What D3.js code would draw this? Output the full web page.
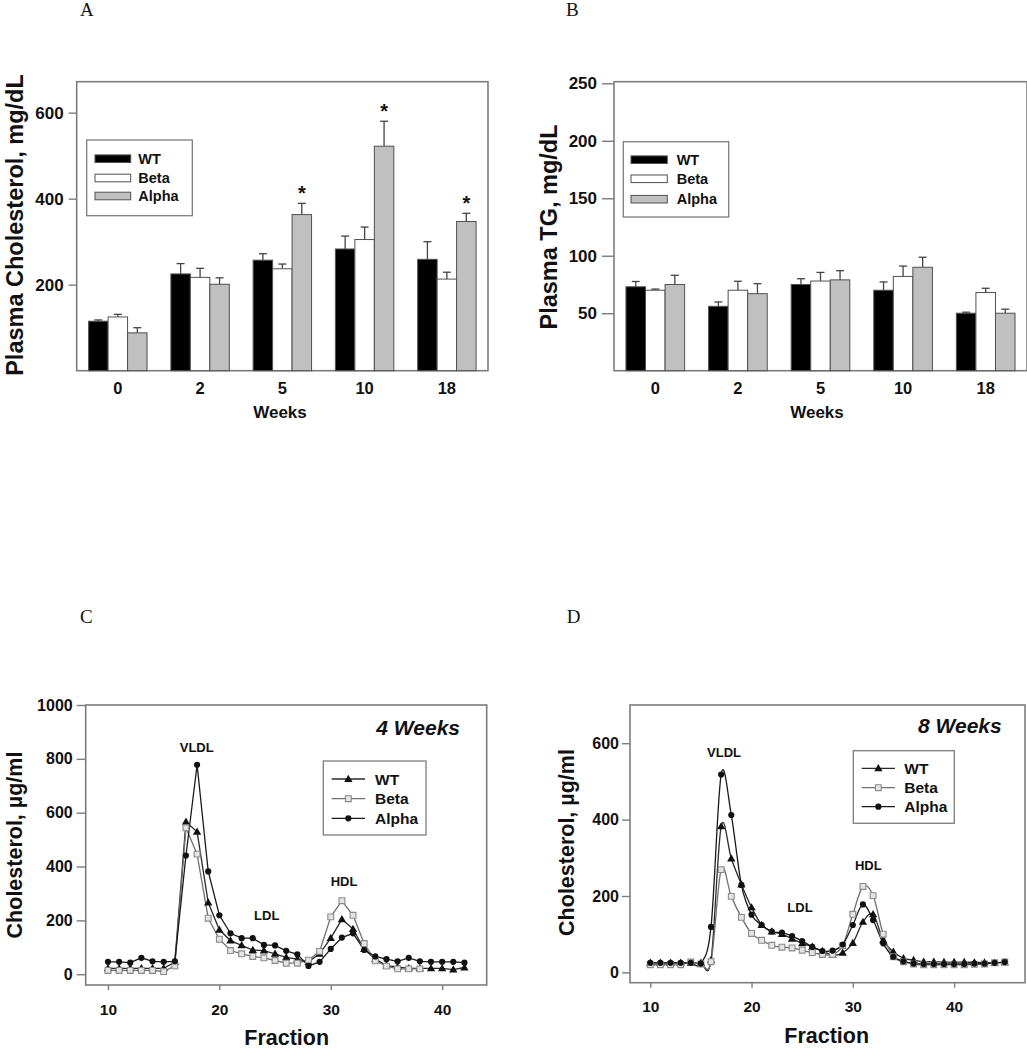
<!DOCTYPE html>
<html><head><meta charset="utf-8">
<script src="https://cdn.jsdelivr.net/npm/d3@7"></script>
<style>
body{margin:0;background:#fff}
text{font-family:"Liberation Sans",Arial,sans-serif;font-weight:bold;fill:#111}
text.panel{font-family:"Liberation Serif","Times New Roman",serif;font-weight:normal;font-size:19px}
</style>
</head><body><svg id="c" width="1027" height="1050"></svg>
<script>
// ---------- data ----------
const weeks = ["0","2","5","10","18"];
const groups = ["WT","Beta","Alpha"];
// Panel A: plasma cholesterol (mg/dL), mean and SE
const cholWT = [115,225,257,283,259];
const cholWTse = [3,24,15,30,41];
const cholBeta = [125,217,237,305,213];
const cholBetaSe = [6,21,11,29,16];
const cholAlpha = [88,201,363,522,347];
const cholAlphaSe = [12,15,26,58,19];
const cholStar = [false,false,true,true,true];
const cholTicks = [200,400,600];
// Panel B: plasma TG (mg/dL)
const tgWT = [73,56,75,70,50];
const tgWTse = [4.6,3.8,5,7.2,0.9];
const tgBeta = [70,70,78,82,68];
const tgBetaSe = [1,7.8,7.5,9,3.7];
const tgAlpha = [75,67,79,90,50];
const tgAlphaSe = [8,8.7,8,8.7,3.5];
const tgTicks = [50,100,150,200,250];
// Panel C: FPLC 4 weeks
const fracC = [10,11,12,13,14,15,16,17,18,19,20,21,22,23,24,25,26,27,28,29,30,31,32,33,34,35,36,37,38,39,40,41,42];
const c4WT = [22,22,22,22,22,22,45,566,529,266,165,125,107,90,88,76,63,56,46,76,134,204,168,93,56,32,27,22,22,22,22,17,25];
const c4Alpha = [46,46,43,61,48,46,48,441,778,382,219,152,134,134,109,107,87,74,31,46,94,136,152,90,66,56,48,61,48,46,46,46,43];
const fracCBeta = [10,11,12,13,14,15,16,17,18,19,20,21,22,23,24,25,26,27,28,29,30,31,32,33,34,35,36,37,38];
const c4Beta = [14,14,14,14,14,10,31,544,446,208,130,88,76,66,61,51,41,41,52,85,213,273,219,114,50,30,20,20,20];
const cTicksY = [0,200,400,600,800,1000];
// Panel D: FPLC 8 weeks
const fracD = [10,11,12,13,14,15,16,17,18,19,20,21,22,23,24,25,26,27,28,29,30,31,32,33,34,35,36,37,38,39,40,41,42,43,44,45];
const d8WT = [25,25,25,25,25,25,32,382,298,230,170,124,107,100,88,76,67,56,45,51,77,132,152,84,54,37,32,28,28,27,27,27,26,26,25,26];
const d8Beta = [20,20,20,20,27,22,28,269,199,144,102,84,71,66,64,58,52,47,47,70,152,225,201,100,41,28,22,20,20,20,20,20,21,22,25,27];
const d8Alpha = [25,25,25,25,25,23,119,518,412,229,151,124,107,104,95,82,67,56,57,73,124,178,137,76,41,29,23,22,22,22,22,22,23,23,25,27];
const dTicksY = [0,200,400,600];
const fracTicks = [10,20,30,40];

const svg = d3.select("#c");
const FRAME = "#7d7d7d";
const barFill = {WT:"#000000", Beta:"#ffffff", Alpha:"#c0c0c0"};

// ---------- bar panels ----------
function barPanel(o){
  const g = svg.append("g");
  const y = d3.scaleLinear().domain(o.ydom).range([o.y1,o.y0]);
  const x = d3.scaleBand().domain(weeks).range([o.x0,o.x1]).paddingInner(0.29).paddingOuter(0.145);
  const xi = d3.scaleBand().domain(groups).range([0,x.bandwidth()]);
  g.append("rect").attr("x",o.x0).attr("y",o.y0).attr("width",o.x1-o.x0).attr("height",o.y1-o.y0)
    .attr("fill","none").attr("stroke",FRAME).attr("stroke-width",1.6);
  const ya = g.append("g").attr("transform",`translate(${o.x0},0)`)
    .call(d3.axisLeft(y).tickValues(o.ticks).tickSize(o.tickLen).tickPadding(5).tickFormat(d3.format("d")));
  ya.select(".domain").remove();
  ya.selectAll("line").attr("stroke",FRAME).attr("stroke-width",1.4);
  ya.selectAll("text").style("font-size","17px").attr("fill","#111");
  const xa = g.append("g").attr("transform",`translate(0,${o.y1})`)
    .call(d3.axisBottom(x).tickSize(0).tickPadding(12));
  xa.select(".domain").remove();
  xa.selectAll("text").style("font-size","16.5px").attr("fill","#111");
  const series = [["WT",o.wt,o.wtSe],["Beta",o.beta,o.betaSe],["Alpha",o.alpha,o.alphaSe]];
  series.forEach(([name,vals,ses])=>{
    weeks.forEach((w,i)=>{
      const bx = x(w)+xi(name), bw = xi.bandwidth();
      const cx = bx + bw/2;
      g.append("line").attr("x1",cx).attr("x2",cx).attr("y1",y(vals[i])).attr("y2",y(vals[i]+ses[i]))
        .attr("stroke","#444").attr("stroke-width",1.3);
      g.append("line").attr("x1",cx-4).attr("x2",cx+4).attr("y1",y(vals[i]+ses[i])).attr("y2",y(vals[i]+ses[i]))
        .attr("stroke","#444").attr("stroke-width",1.3);
      g.append("rect").attr("x",bx).attr("y",y(vals[i])).attr("width",bw).attr("height",y(0)-y(vals[i]))
        .attr("fill",barFill[name]).attr("stroke","#505050").attr("stroke-width",1);
      if(o.stars && o.stars[i] && name==="Alpha"){
        g.append("text").attr("x",cx).attr("y",y(vals[i]+ses[i])-3).attr("text-anchor","middle")
          .style("font-size","20px").text("*");
      }
    });
  });
  g.append("text").attr("x",o.xtX).attr("y",o.y1+47).attr("text-anchor","middle").style("font-size","17px").text("Weeks");
  g.append("text").attr("transform",`translate(${o.ytX},${o.ytY}) rotate(-90)`).attr("text-anchor","middle")
    .style("font-size","23.5px").text(o.ytitle);
  const L = o.leg;
  g.append("rect").attr("x",L.x).attr("y",L.y).attr("width",L.w).attr("height",L.h)
    .attr("fill","#fff").attr("stroke",FRAME).attr("stroke-width",1.3);
  groups.forEach((name,k)=>{
    const ry = L.rows[k];
    g.append("rect").attr("x",L.sx).attr("y",ry-3.8).attr("width",L.sw).attr("height",7.6)
      .attr("fill",barFill[name]).attr("stroke","#505050").attr("stroke-width",1);
    g.append("text").attr("x",L.tx).attr("y",ry+5.2).style("font-size","14.5px").text(name);
  });
  svg.append("text").attr("class","panel").attr("x",o.pl[0]).attr("y",o.pl[1]).text(o.plText);
}

barPanel({x0:76.7,x1:488,y0:81.7,y1:370.7,ydom:[0,672],ticks:cholTicks,tickLen:8,
  wt:cholWT,wtSe:cholWTse,beta:cholBeta,betaSe:cholBetaSe,alpha:cholAlpha,alphaSe:cholAlphaSe,stars:cholStar,
  xtX:280,ytX:22.5,ytY:225,ytitle:"Plasma Cholesterol, mg/dL",
  leg:{x:86.7,y:140,w:105.6,h:75.7,sx:95,sw:35.7,tx:138.3,rows:[158.7,178,196]},
  pl:[80,16],plText:"A"});

barPanel({x0:614,x1:1027,y0:81.7,y1:370.7,ydom:[0,251.4],ticks:tgTicks,tickLen:12,
  wt:tgWT,wtSe:tgWTse,beta:tgBeta,betaSe:tgBetaSe,alpha:tgAlpha,alphaSe:tgAlphaSe,stars:null,
  xtX:817,ytX:557,ytY:227,ytitle:"Plasma TG, mg/dL",
  leg:{x:623.3,y:141.7,w:105.4,h:75.3,sx:631,sw:36.3,tx:676.7,rows:[159.7,178.8,199.2]},
  pl:[566,16],plText:"B"});

// ---------- line panels ----------
const symWT = d3.symbol().type(d3.symbolTriangle).size(30);
const symCirc = d3.symbol().type(d3.symbolCircle).size(30);
const symSq = d3.symbol().type(d3.symbolSquare).size(34);
function marker(g,kind,x,y){
  if(kind==="WT") g.append("path").attr("d",symWT()).attr("transform",`translate(${x},${y+0.5})`).attr("fill","#111");
  else if(kind==="Alpha") g.append("path").attr("d",symCirc()).attr("transform",`translate(${x},${y})`).attr("fill","#111");
  else g.append("path").attr("d",symSq()).attr("transform",`translate(${x},${y})`).attr("fill","#e4e4e4").attr("stroke","#8a8a8a").attr("stroke-width",1.1);
}
const lineCol = {WT:"#2a2a2a",Beta:"#707070",Alpha:"#1a1a1a"};

function linePanel(o){
  const g = svg.append("g");
  const x = d3.scaleLinear().domain(o.xdom).range([o.x0,o.x1]);
  const y = d3.scaleLinear().domain(o.ydom).range([o.y1,o.y0]);
  g.append("rect").attr("x",o.x0).attr("y",o.y0).attr("width",o.x1-o.x0).attr("height",o.y1-o.y0)
    .attr("fill","none").attr("stroke",FRAME).attr("stroke-width",1.6);
  const ya = g.append("g").attr("transform",`translate(${o.x0},0)`)
    .call(d3.axisLeft(y).tickValues(o.yticks).tickSize(o.ytl).tickPadding(o.ytp).tickFormat(d3.format("d")));
  ya.select(".domain").remove();
  ya.selectAll("line").attr("stroke",FRAME).attr("stroke-width",1.4);
  ya.selectAll("text").style("font-size","16px").attr("fill","#111");
  const xa = g.append("g").attr("transform",`translate(0,${o.y1})`)
    .call(d3.axisBottom(x).tickValues(fracTicks).tickSize(5).tickPadding(o.xtp).tickFormat(d3.format("d")));
  xa.select(".domain").remove();
  xa.selectAll("line").attr("stroke",FRAME).attr("stroke-width",1.4);
  xa.selectAll("text").style("font-size","15.5px").attr("fill","#111");
  const line = d3.line().x(d=>x(d[0])).y(d=>y(d[1])).curve(o.curve);
  o.series.forEach(s=>{
    const pts = s.fx.map((f,i)=>[f,s.vals[i]]);
    g.append("path").attr("d",line(pts)).attr("fill","none").attr("stroke",lineCol[s.name]).attr("stroke-width",1.3);
  });
  o.series.forEach(s=>{
    s.fx.forEach((f,i)=>marker(g,s.name,x(f),y(s.vals[i])));
  });
  g.append("text").attr("x",o.wk[0]).attr("y",o.wk[1]).attr("text-anchor","end")
    .style("font-size","21px").style("font-style","italic").text(o.wkText);
  o.ann.forEach(a=>g.append("text").attr("x",a[1]).attr("y",a[2]).attr("text-anchor","middle").style("font-size","13px").text(a[0]));
  const L = o.leg;
  g.append("rect").attr("x",L.x).attr("y",L.y).attr("width",L.w).attr("height",L.h)
    .attr("fill","#fff").attr("stroke",FRAME).attr("stroke-width",1.3);
  groups.forEach((name,k)=>{
    const ry = L.rows[k];
    g.append("line").attr("x1",L.lx0).attr("x2",L.lx1).attr("y1",ry).attr("y2",ry).attr("stroke",lineCol[name]).attr("stroke-width",1.3);
    marker(g,name,(L.lx0+L.lx1)/2,ry);
    g.append("text").attr("x",L.tx).attr("y",ry+5.5).style("font-size","15.5px").text(name);
  });
  g.append("text").attr("x",o.xt[0]).attr("y",o.xt[1]).attr("text-anchor","middle").style("font-size","21.5px").text("Fraction");
  g.append("text").attr("transform",`translate(${o.yt[0]},${o.yt[1]}) rotate(-90)`).attr("text-anchor","middle")
    .style("font-size","21.5px").text("Cholesterol, \u00b5g/ml");
  svg.append("text").attr("class","panel").attr("x",o.pl[0]).attr("y",o.pl[1]).text(o.plText);
}

linePanel({x0:85.7,x1:486.7,y0:705,y1:985,xdom:[8,44],ydom:[-40,1000],yticks:cTicksY,ytl:9,ytp:4,xtp:14,
  curve:d3.curveLinear,
  series:[{name:"WT",fx:fracC,vals:c4WT},{name:"Beta",fx:fracCBeta,vals:c4Beta},{name:"Alpha",fx:fracC,vals:c4Alpha}],
  wk:[460,735],wkText:"4 Weeks",
  ann:[["VLDL",196.7,752],["LDL",266.7,920],["HDL",344,886]],
  leg:{x:323.3,y:761,w:102.7,h:74,lx0:331.7,lx1:365,tx:375,rows:[779,798.7,818.3]},
  xt:[286.7,1044.5],yt:[22,845],pl:[80,623],plText:"C"});

linePanel({x0:630,x1:1025,y0:705,y1:982.7,xdom:[8,47],ydom:[-27,700],yticks:dTicksY,ytl:8,ytp:3,xtp:13,
  curve:d3.curveCardinal.tension(0),
  series:[{name:"WT",fx:fracD,vals:d8WT},{name:"Beta",fx:fracD,vals:d8Beta},{name:"Alpha",fx:fracD,vals:d8Alpha}],
  wk:[1001.7,733],wkText:"8 Weeks",
  ann:[["VLDL",724,756.7],["LDL",800,911.7],["HDL",868.3,870]],
  leg:{x:853.3,y:750.7,w:101,h:72.6,lx0:861.7,lx1:895,tx:904.3,rows:[768.3,787.7,806.7]},
  xt:[826.7,1043],yt:[574,842.5],pl:[566.7,623],plText:"D"});
</script>
</body></html>
